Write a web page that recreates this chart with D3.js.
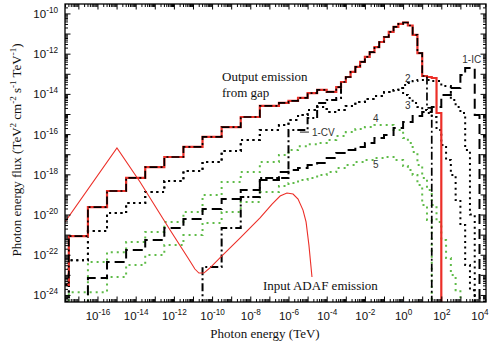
<!DOCTYPE html>
<html>
<head>
<meta charset="utf-8">
<script src="https://cdn.jsdelivr.net/npm/d3@7"></script>
<style>
  body { margin: 0; background: #fff; }
  svg { display: block; }
</style>
</head>
<body>
<svg id="chart" width="489" height="348"></svg>
<script>
// Energies are log10(E / TeV), fluxes are log10(E^2 dN/dE / TeV^2 cm^-2 s^-1 TeV^-1).
// Step spectra: each entry is [bin start, flux]; the last bin ends at the *End value.

const totalGap = [
  [-18.5, -23.5], [-17.5, -21.07], [-16.5, -19.63], [-15.5, -18.83], [-14.5, -18.18],
  [-13.5, -17.64], [-12.5, -17.14], [-11.5, -16.64], [-10.5, -16.14], [-9.5, -15.65],
  [-8.5, -15.15], [-7.5, -14.60], [-6.5, -14.45], [-6.0, -14.35], [-5.5, -14.2],
  [-5.0, -13.96], [-4.5, -13.8], [-4.0, -13.9], [-3.5, -13.66], [-3.25, -13.41],
  [-3.0, -13.16], [-2.75, -12.91], [-2.5, -12.66], [-2.25, -12.41], [-2.0, -12.16],
  [-1.75, -11.92], [-1.5, -11.67], [-1.25, -11.42], [-1.0, -11.17], [-0.75, -10.92],
  [-0.5, -10.67], [-0.25, -10.52], [0.0, -10.45], [0.25, -10.6], [0.5, -11.07],
  [0.75, -11.97], [1.0, -13.11], [1.25, -13.16], [1.5, -13.21], [1.75, -14.95]
];
const totalGapEnd = 2.0;

// curvature part of case 1: follows the total up to 10^1.25 TeV, then its own tail
const cvTail = [[1.25, -14.7]];
const cvTailEnd = 1.5;

// low-energy branch of the curvature spectrum, rising into the total at 10^-3.25 TeV
const cv1 = [
  [-10.5, -22.61], [-9.5, -20.67], [-8.5, -19.13], [-7.5, -18.18], [-6.0, -15.8],
  [-5.0, -15.2], [-4.5, -14.45], [-4.0, -14.3], [-3.5, -14.2]
];
const cv1End = -3.25;
const cv1JoinFlux = -13.41;

const ic1 = [
  [-16.5, -23.16], [-15.5, -22.36], [-14.5, -21.77], [-13.5, -21.27], [-12.5, -20.67],
  [-11.5, -20.22], [-10.5, -19.73], [-9.5, -19.23], [-8.5, -18.78], [-7.5, -18.28],
  [-6.5, -17.89], [-6.0, -17.79], [-5.5, -17.69], [-5.0, -17.54], [-4.5, -17.44],
  [-4.0, -17.19], [-3.5, -16.94], [-3.0, -16.79], [-2.5, -16.64], [-2.0, -16.44],
  [-1.5, -16.19], [-1.0, -16.04], [-0.5, -15.7], [0.0, -15.4], [0.5, -15.1],
  [1.0, -14.9], [1.5, -14.65], [2.0, -14.05], [2.5, -13.71], [3.0, -13.06],
  [3.25, -12.71], [3.75, -15.05]
];
const ic1End = 4.0;

const model2 = [
  [-17.5, -22.27], [-16.5, -20.82], [-15.5, -19.93], [-14.5, -19.43], [-13.5, -18.88],
  [-12.5, -18.33], [-11.5, -17.84], [-10.5, -17.39], [-9.5, -16.84], [-8.5, -16.29],
  [-7.5, -15.8], [-6.5, -15.55], [-6.0, -15.3], [-5.5, -15.05], [-5.0, -14.8],
  [-4.5, -14.65], [-4.0, -14.9], [-3.5, -14.8], [-3.0, -14.6], [-2.5, -14.4],
  [-2.0, -14.25], [-1.5, -14.1], [-1.0, -13.91], [-0.5, -13.81], [-0.25, -13.71],
  [0.0, -13.56], [0.25, -13.46], [0.5, -13.36], [0.75, -13.31], [1.5, -13.36],
  [2.0, -13.61], [2.5, -14.3], [2.75, -14.65], [3.0, -14.95], [3.25, -16.79],
  [3.5, -20.0]
];
const model2End = 3.75;

const model3 = [
  [-17.5, -22.27], [-16.5, -20.82], [-15.5, -19.93], [-14.5, -19.43], [-13.5, -18.88],
  [-12.5, -18.33], [-11.5, -17.84], [-10.5, -17.39], [-9.5, -16.84], [-8.5, -16.29],
  [-7.5, -15.8], [-6.5, -15.55], [-6.0, -15.3], [-5.5, -15.05], [-5.0, -14.8],
  [-4.5, -14.65], [-4.0, -14.9], [-3.5, -14.8], [-3.0, -14.6], [-2.5, -14.4],
  [-2.0, -14.25], [-1.5, -14.1], [-1.0, -13.91], [-0.5, -13.81], [-0.25, -13.71],
  [0.0, -14.05], [0.25, -14.2], [0.5, -14.45], [0.75, -14.65], [1.0, -14.8],
  [1.25, -14.95], [1.5, -15.15], [1.75, -15.8], [2.0, -16.54], [2.25, -17.29],
  [2.5, -18.03], [2.75, -19.28], [3.0, -20.52], [3.25, -22.51], [3.5, -23.76]
];
const model3End = 3.75;

const model4 = [
  [-16.5, -22.36], [-15.5, -21.87], [-14.5, -21.37], [-13.5, -20.87], [-12.5, -20.37],
  [-11.5, -19.88], [-10.5, -19.03], [-9.5, -18.38], [-8.5, -17.89], [-7.5, -17.39],
  [-6.5, -17.04], [-6.0, -16.79], [-5.5, -16.6], [-5.0, -16.5], [-4.5, -16.44],
  [-4.0, -16.29], [-3.5, -16.09], [-3.0, -15.9], [-2.5, -15.75], [-2.0, -15.65],
  [-1.5, -15.55], [-1.0, -15.55], [-0.5, -15.8], [0.0, -16.19], [0.25, -16.44],
  [0.5, -16.89], [0.75, -17.54], [1.0, -18.18], [1.25, -18.78], [1.5, -19.53],
  [1.75, -20.37], [2.0, -21.27], [2.25, -22.16], [2.5, -23.01], [2.75, -23.76]
];
const model4End = 3.0;

const model5 = [
  [-17.5, -23.86], [-15.5, -23.11], [-14.5, -22.51], [-13.5, -22.01], [-12.5, -21.52],
  [-11.5, -21.02], [-10.5, -20.42], [-9.5, -19.88], [-8.5, -19.38], [-7.5, -18.88],
  [-6.5, -18.58], [-6.0, -18.43], [-5.5, -18.28], [-5.0, -18.18], [-4.5, -18.03],
  [-4.0, -17.89], [-3.5, -17.69], [-3.0, -17.54], [-2.5, -17.39], [-2.0, -17.29],
  [-1.5, -17.19], [-1.0, -17.14], [-0.5, -17.29], [0.0, -17.59], [0.25, -17.79],
  [0.5, -18.03], [0.75, -18.53], [1.0, -19.53], [1.25, -20.27]
];
const model5End = 1.5;

// Seed photons from the ADAF (smooth spectrum)
const adafInput = [
  [-17.70, -20.37], [-14.98, -16.69], [-13.77, -18.38], [-12.20, -20.77], [-11.26, -22.16],
  [-10.90, -22.71], [-10.69, -22.91], [-10.43, -22.91], [-10.12, -22.66], [-9.59, -22.16],
  [-8.54, -21.17], [-7.49, -20.17], [-6.86, -19.48], [-6.44, -19.08], [-6.08, -18.93],
  [-5.76, -18.98], [-5.50, -19.23], [-5.24, -19.78], [-5.08, -20.37], [-4.93, -21.52],
  [-4.77, -23.11]
];

const xTickExps = [-16, -14, -12, -10, -8, -6, -4, -2, 0, 2, 4];
const yTickExps = [-24, -22, -20, -18, -16, -14, -12, -10];

const xLogDomain = [-17.70, 4.34];
const yLogDomain = [-24.35, -9.53];

// ---------------------------------------------------------------------------
const svg = d3.select("#chart");
const plot = { left: 65, right: 486, top: 4, bottom: 302 };

const x = d3.scaleLog().domain(xLogDomain.map(v => 10 ** v)).range([plot.left, plot.right]);
const y = d3.scaleLog().domain(yLogDomain.map(v => 10 ** v)).range([plot.bottom, plot.top]);

const RED = "#ec2f28";
const GREEN = "#5fbb48";
const FLOOR = -27;

svg.append("defs").append("clipPath").attr("id", "plotClip")
  .append("rect")
  .attr("x", plot.left).attr("y", plot.top)
  .attr("width", plot.right - plot.left).attr("height", plot.bottom - plot.top);

const line = d3.line().x(d => x(10 ** d[0])).y(d => y(10 ** d[1]));

// vertices of a histogram outline that rises from the floor and ends at endFlux
function stepVertices(steps, end, endFlux = FLOOR) {
  const pts = [[steps[0][0], FLOOR]];
  steps.forEach((s, i) => {
    const next = i < steps.length - 1 ? steps[i + 1][0] : end;
    pts.push([s[0], s[1]], [next, s[1]]);
  });
  pts.push([end, endFlux]);
  return pts;
}

const curves = svg.append("g").attr("clip-path", "url(#plotClip)").attr("fill", "none");

function drawStep(steps, end, style, endFlux) {
  curves.append("path")
    .attr("d", line(stepVertices(steps, end, endFlux)))
    .attr("stroke", style.color)
    .attr("stroke-width", style.width)
    .attr("stroke-dasharray", style.dash || null)
    .attr("stroke-linecap", "butt");
}

const DOT = "2,3.7", GDOT = "2,4", LDASH = "10,5", DASHDOT = "8,3,2,3";

drawStep(model5, model5End, { color: GREEN, width: 2, dash: GDOT });
drawStep(model4, model4End, { color: GREEN, width: 2, dash: GDOT });
drawStep(model3, model3End, { color: "#000", width: 2, dash: DOT });
drawStep(model2, model2End, { color: "#000", width: 2, dash: DOT });
drawStep(ic1, ic1End, { color: "#000", width: 2, dash: LDASH });
drawStep(cv1, cv1End, { color: "#000", width: 2, dash: DASHDOT }, cv1JoinFlux);

curves.append("path")
  .attr("d", line(adafInput))
  .attr("stroke", RED).attr("stroke-width", 1.1);

drawStep(totalGap, totalGapEnd, { color: RED, width: 2.2 });
drawStep(totalGap.filter(s => s[0] < cvTail[0][0]).concat(cvTail), cvTailEnd,
  { color: "#000", width: 1.7, dash: DASHDOT });

// ---------------------------------------------------------------------------
// Axes: inward major/minor ticks on all four sides
const decadeVals = (dom) => d3.range(Math.ceil(dom[0]), Math.floor(dom[1]) + 1).map(e => 10 ** e);
const minorVals = (dom) => {
  const out = [];
  for (let e = Math.floor(dom[0]); e <= Math.ceil(dom[1]); e++) {
    for (let k = 2; k <= 9; k++) {
      const v = e + Math.log10(k);
      if (v > dom[0] && v < dom[1]) out.push(10 ** v);
    }
  }
  return out;
};

const xMajor = decadeVals(xLogDomain), xMinor = minorVals(xLogDomain);
const yMajor = decadeVals(yLogDomain), yMinor = minorVals(yLogDomain);

function tickAxis(axisFn, scale, vals, len, transform) {
  const g = svg.append("g").attr("transform", transform)
    .call(axisFn(scale).tickValues(vals).tickSizeInner(-len).tickSizeOuter(0).tickFormat(""));
  g.select(".domain").remove();
  g.selectAll(".tick line").attr("stroke", "#000").attr("stroke-width", 1);
  return g;
}

[[xMajor, 5.5], [xMinor, 3]].forEach(([vals, len]) => {
  tickAxis(d3.axisBottom, x, vals, len, `translate(0,${plot.bottom})`);
  tickAxis(d3.axisTop, x, vals, len, `translate(0,${plot.top})`);
});
[[yMajor, 5.5], [yMinor, 3]].forEach(([vals, len]) => {
  tickAxis(d3.axisLeft, y, vals, len, `translate(${plot.left},0)`);
  tickAxis(d3.axisRight, y, vals, len, `translate(${plot.right},0)`);
});

svg.append("rect")
  .attr("x", plot.left).attr("y", plot.top)
  .attr("width", plot.right - plot.left).attr("height", plot.bottom - plot.top)
  .attr("fill", "none").attr("stroke", "#000").attr("stroke-width", 1.3);

// Power-of-ten tick labels
function powerLabel(sel) {
  sel.each(function (d) {
    const t = d3.select(this).text(null);
    const e = Math.round(Math.log10(d));
    t.append("tspan").text("10");
    t.append("tspan").attr("font-size", 8.2).attr("dy", -5).text(String(e));
  });
}

const sans = "Liberation Sans, Arial, sans-serif";
const serif = "Liberation Serif, Times New Roman, serif";

const xl = svg.append("g").attr("transform", `translate(0,${plot.bottom})`)
  .call(d3.axisBottom(x).tickValues(xTickExps.map(e => 10 ** e)).tickSize(0).tickFormat(""));
xl.select(".domain").remove();
xl.selectAll(".tick text")
  .attr("y", 17.5).attr("dy", null)
  .attr("font-family", sans).attr("font-size", 11.5)
  .attr("fill", "#111").call(powerLabel);

const yl = svg.append("g").attr("transform", `translate(${plot.left},0)`)
  .call(d3.axisLeft(y).tickValues(yTickExps.map(e => 10 ** e)).tickSize(0).tickFormat(""));
yl.select(".domain").remove();
yl.selectAll(".tick text")
  .attr("x", -7).attr("dy", 4)
  .attr("font-family", sans).attr("font-size", 11.5)
  .attr("fill", "#111").call(powerLabel);

// Axis titles
svg.append("text")
  .attr("x", 265).attr("y", 338)
  .attr("text-anchor", "middle")
  .attr("font-family", serif).attr("font-size", 13).attr("fill", "#111")
  .text("Photon energy (TeV)");

const yTitle = svg.append("text")
  .attr("transform", "translate(21,150) rotate(-90)")
  .attr("text-anchor", "middle")
  .attr("font-family", serif).attr("font-size", 13).attr("fill", "#111");
[["Photon energy flux (TeV", 0], ["2", -5], [" cm", 5], ["-2", -5], [" s", 5], ["-1", -5],
 [" TeV", 5], ["-1", -5], [")", 5]].forEach(([s, dy]) => {
  yTitle.append("tspan").attr("dy", dy).attr("font-size", dy < 0 ? 9 : 13).text(s);
});

// Annotations
svg.append("text").attr("font-family", serif).attr("font-size", 13).attr("fill", "#111")
  .selectAll("tspan").data(["Output emission", "from gap"]).join("tspan")
  .attr("x", 222).attr("y", (d, i) => 81 + i * 16).text(d => d);

svg.append("text").attr("x", 263).attr("y", 290)
  .attr("font-family", serif).attr("font-size", 13).attr("fill", "#111")
  .text("Input ADAF emission");

const curveLabels = [
  { t: "2", e: 0.1, f: -13.2 },
  { t: "3", e: 0.1, f: -14.55 },
  { t: "4", e: -1.58, f: -15.2 },
  { t: "5", e: -1.58, f: -17.49 },
  { t: "1-CV", e: -4.77, f: -15.9 },
  { t: "1-IC", e: 3.1, f: -12.25 }
];
svg.append("g").selectAll("text").data(curveLabels).join("text")
  .attr("x", d => x(10 ** d.e)).attr("y", d => y(10 ** d.f) + 4)
  .attr("font-family", sans).attr("font-size", 10).attr("fill", "#333")
  .text(d => d.t);

// short leader for the 1-CV label
svg.append("line")
  .attr("x1", x(10 ** -5.4)).attr("x2", x(10 ** -4.93))
  .attr("y1", y(10 ** -15.9)).attr("y2", y(10 ** -15.9))
  .attr("stroke", "#222").attr("stroke-width", 1);
</script>
</body>
</html>
